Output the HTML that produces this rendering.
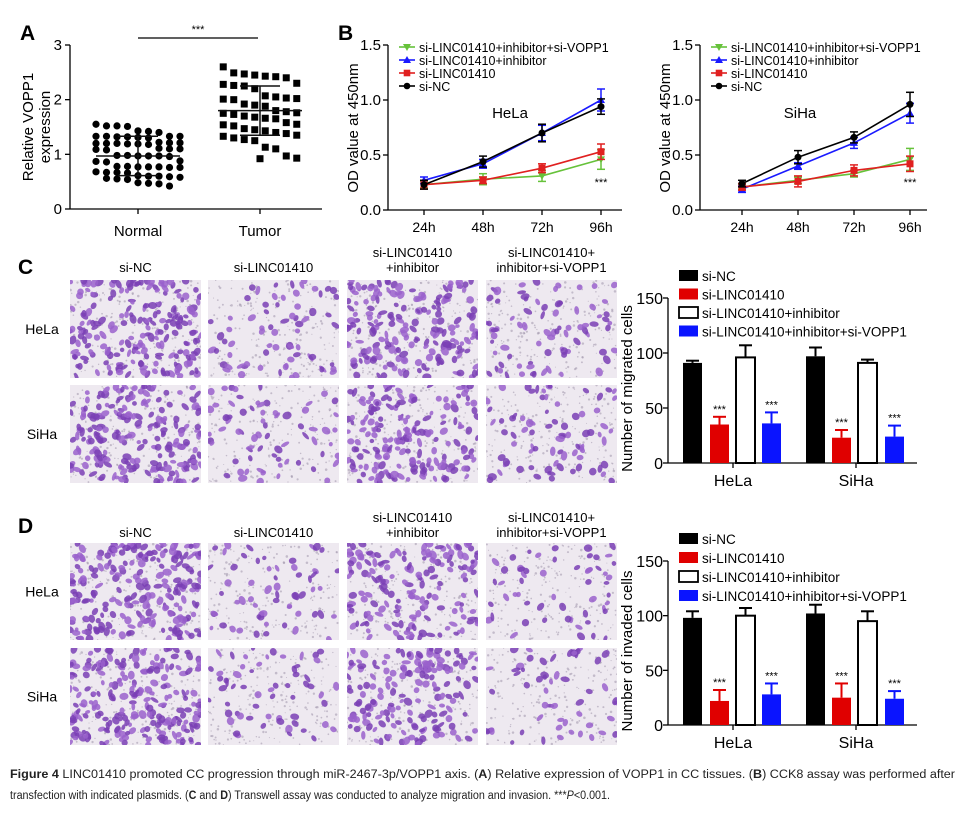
<!DOCTYPE html>
<html><head><meta charset="utf-8">
<style>
html,body{margin:0;padding:0;background:#fff;}
svg{display:block;font-family:"Liberation Sans",Arial,sans-serif;}
</style></head>
<body>
<svg id="fig" width="964" height="817" viewBox="0 0 964 817" xmlns="http://www.w3.org/2000/svg">
<g id="panelA"></g>
<g id="panelB"></g>
<g id="panelC"></g>
<g id="panelD"></g>
<g id="caption">
<text x="10" y="778" font-size="11.5" textLength="945" lengthAdjust="spacingAndGlyphs" fill="#222"><tspan font-weight="bold">Figure 4</tspan> LINC01410 promoted CC progression through miR-2467-3p/VOPP1 axis. (<tspan font-weight="bold">A</tspan>) Relative expression of VOPP1 in CC tissues. (<tspan font-weight="bold">B</tspan>) CCK8 assay was performed after</text>
<text x="10" y="799" font-size="11.5" textLength="600" lengthAdjust="spacingAndGlyphs" fill="#222">transfection with indicated plasmids. (<tspan font-weight="bold">C</tspan> and <tspan font-weight="bold">D</tspan>) Transwell assay was conducted to analyze migration and invasion. ***<tspan font-style="italic">P</tspan>&lt;0.001.</text>
</g>
</svg>
<script>
// ---------- DATA ----------
const aCategories = ["Normal","Tumor"];
const normalVals = [1.55,1.52,1.51,1.52,1.43,1.42,1.40,1.33,1.32,1.33,1.31,1.33,1.32,1.30,1.33,1.20,1.21,1.19,1.20,1.18,1.21,1.20,1.22,1.19,1.10,1.09,1.11,1.08,1.10,0.97,0.98,0.96,0.97,0.98,0.97,0.87,0.88,0.86,0.77,0.76,0.78,0.77,0.76,0.78,0.77,0.67,0.66,0.68,0.67,0.60,0.59,0.61,0.58,0.60,0.55,0.56,0.54,0.47,0.46,0.48,0.42];
const tumorVals = [2.60,2.49,2.47,2.45,2.43,2.42,2.40,2.30,2.28,2.26,2.25,2.20,2.07,2.05,2.03,2.02,2.00,2.01,1.92,1.90,1.88,1.80,1.78,1.76,1.75,1.73,1.70,1.68,1.66,1.65,1.58,1.55,1.54,1.52,1.47,1.45,1.43,1.40,1.38,1.35,1.33,1.30,1.27,1.25,1.13,1.10,0.97,0.93,0.92];
const aMeans = [0.97,1.80];
const aSD = [0.36,0.45];
const aTicks = [0,1,2,3];
const bTimes = ["24h","48h","72h","96h"];
const bTicks = [0.0,0.5,1.0,1.5];
const bSeriesNames = ["si-LINC01410+inhibitor+si-VOPP1","si-LINC01410+inhibitor","si-LINC01410","si-NC"];
const helaGreen=[0.23,0.28,0.31,0.46], helaGreenErr=[0.03,0.05,0.05,0.09];
const helaBlue=[0.27,0.42,0.70,1.00], helaBlueErr=[0.03,0.04,0.07,0.10];
const helaRed=[0.23,0.27,0.38,0.53], helaRedErr=[0.04,0.03,0.04,0.07];
const helaBlack=[0.23,0.44,0.70,0.94], helaBlackErr=[0.04,0.05,0.08,0.07];
const sihaGreen=[0.21,0.27,0.33,0.46], sihaGreenErr=[0.02,0.03,0.03,0.10];
const sihaBlue=[0.19,0.40,0.61,0.88], sihaBlueErr=[0.03,0.03,0.05,0.09];
const sihaRed=[0.21,0.26,0.36,0.42], sihaRedErr=[0.03,0.05,0.05,0.07];
const sihaBlack=[0.24,0.48,0.66,0.96], sihaBlackErr=[0.03,0.06,0.05,0.11];
const barGroups = ["HeLa","SiHa"];
const barSeries = ["si-NC","si-LINC01410","si-LINC01410+inhibitor","si-LINC01410+inhibitor+si-VOPP1"];
const barTicks = [0,50,100,150];
const migHela=[91,35,96,36], migHelaErr=[2,7,11,10];
const migSiha=[97,23,91,24], migSihaErr=[8,7,3,10];
const invHela=[98,22,100,28], invHelaErr=[6,10,7,10];
const invSiha=[102,25,95,24], invSihaErr=[8,13,9,7];
const sigFlags=[false,true,false,true];

// ---------- HELPERS ----------
const NS="http://www.w3.org/2000/svg";
function mk(parent,tag,attrs,text){const e=document.createElementNS(NS,tag);for(const k in attrs)e.setAttribute(k,attrs[k]);if(text!==undefined)e.textContent=text;parent.appendChild(e);return e;}
const fig=document.getElementById('fig');
let t;
t=mk(fig,'text',{x:20,y:40,'font-size':21,'font-weight':'bold'},'A');


t=mk(fig,'text',{x:338,y:40,'font-size':21,'font-weight':'bold'},'B');


t=mk(fig,'text',{x:18,y:274,'font-size':21,'font-weight':'bold'},'C');


t=mk(fig,'text',{x:18,y:533,'font-size':21,'font-weight':'bold'},'D');



// ---------- PANEL A ----------
(function(){
 const g=document.getElementById('panelA');
 const x0=70,x1=322,yb=209,yt=45;
 const ys=v=>yb-(v/3)*(yb-yt);
 const xs=[138,260];
 let e=mk(g,'line',{x1:x0,y1:yt,x2:x0,y2:yb,stroke:'#000','stroke-width':1.3});
 
 e=mk(g,'line',{x1:x0,y1:yb,x2:x1,y2:yb,stroke:'#000','stroke-width':1.3});
 
 aTicks.forEach(v=>{mk(g,'line',{x1:x0-5,y1:ys(v),x2:x0,y2:ys(v),stroke:'#000','stroke-width':1.3});
  const l=mk(g,'text',{x:x0-8,y:ys(v)+5,'font-size':15,'text-anchor':'end'},String(v));
  });
 aCategories.forEach((c,i)=>{mk(g,'line',{x1:xs[i],y1:yb,x2:xs[i],y2:yb+5,stroke:'#000','stroke-width':1.3});
  const l=mk(g,'text',{x:xs[i],y:yb+27,'font-size':15,'text-anchor':'middle'},c);
  });
 const yt1=mk(g,'text',{transform:'translate(33,127) rotate(-90)','font-size':15,'text-anchor':'middle'},'Relative VOPP1');
 
 const yt2=mk(g,'text',{transform:'translate(50,127) rotate(-90)','font-size':15,'text-anchor':'middle'},'expression');
 
 [normalVals,tumorVals].forEach((arr,gi)=>{
  const sorted=arr.slice().sort((a,b)=>b-a);
  const per=gi===0?9:8;
  sorted.forEach((v,k)=>{
   const row=Math.floor(k/per);const n=Math.min(per,sorted.length-row*per);const pos=k%per;
   const order=[0,2,4,6,8,7,5,3,1];
   const cx=xs[gi]+(pos-(n-1)/2)*10.5;
   let p;
   if(gi===0){p=mk(g,'circle',{cx:cx,cy:ys(v),r:3.6,fill:'#000'});}
   else{p=mk(g,'rect',{x:cx-3.5,y:ys(v)-3.5,width:7,height:7,fill:'#000'});}
   });
  const m=mk(g,'line',{x1:xs[gi]-42,x2:xs[gi]+42,y1:ys(aMeans[gi]),y2:ys(aMeans[gi]),stroke:'#111','stroke-width':1.5});
  
  mk(g,'line',{x1:xs[gi],x2:xs[gi],y1:ys(aMeans[gi]-aSD[gi]),y2:ys(aMeans[gi]+aSD[gi]),stroke:'#111','stroke-width':1.5});
  [aMeans[gi]-aSD[gi],aMeans[gi]+aSD[gi]].forEach(v=>mk(g,'line',{x1:xs[gi]-20,x2:xs[gi]+20,y1:ys(v),y2:ys(v),stroke:'#111','stroke-width':1.5}));
 });
 const s=mk(g,'line',{x1:138,x2:258,y1:38,y2:38,stroke:'#000','stroke-width':1.3});
 
 const st=mk(g,'text',{x:198,y:33,'font-size':11,'text-anchor':'middle'},'***');
 
})();

// ---------- PANEL B ----------
function lineChart(g,ax,xTicksPx,xEnd,label,labelX,series,name){
 const yb=210,yt=45;const ys=v=>yb-(v/1.5)*(yb-yt);
 let e=mk(g,'line',{x1:ax,y1:yt,x2:ax,y2:yb,stroke:'#000','stroke-width':1.3});
 
 e=mk(g,'line',{x1:ax,y1:yb,x2:xEnd,y2:yb,stroke:'#000','stroke-width':1.3});
 
 bTicks.forEach(v=>{mk(g,'line',{x1:ax-5,x2:ax,y1:ys(v),y2:ys(v),stroke:'#000','stroke-width':1.3});
  const l=mk(g,'text',{x:ax-7,y:ys(v)+5,'font-size':15,'text-anchor':'end'},v.toFixed(1));
  });
 const xp=i=>xTicksPx[0]+i*(xTicksPx[1]-xTicksPx[0]);
 bTimes.forEach((tt,i)=>{mk(g,'line',{x1:xp(i),x2:xp(i),y1:yb,y2:yb+5,stroke:'#000','stroke-width':1.3});
  const l=mk(g,'text',{x:xp(i),y:yb+22,'font-size':14,'text-anchor':'middle'},tt);
  });
 const ytl=mk(g,'text',{transform:`translate(${ax-30},128) rotate(-90)`,'font-size':15,'text-anchor':'middle'},'OD value at 450nm');
 
 const cl=mk(g,'text',{x:labelX,y:118,'font-size':15,'text-anchor':'middle'},label);
 
 series.forEach(s=>{
  const pts=s.vals.map((v,i)=>xp(i)+','+ys(v)).join(' ');
  const pl=mk(g,'polyline',{points:pts,fill:'none',stroke:s.color,'stroke-width':1.6});
  
  s.vals.forEach((v,i)=>{const x=xp(i);
   mk(g,'line',{x1:x,x2:x,y1:ys(v-s.err[i]),y2:ys(v+s.err[i]),stroke:s.color,'stroke-width':1.5});
   [v-s.err[i],v+s.err[i]].forEach(w=>mk(g,'line',{x1:x-4,x2:x+4,y1:ys(w),y2:ys(w),stroke:s.color,'stroke-width':1.5}));
   let m;
   if(s.mark==='circle')m=mk(g,'circle',{cx:x,cy:ys(v),r:3.5,fill:s.color});
   else if(s.mark==='square')m=mk(g,'rect',{x:x-3.5,y:ys(v)-3.5,width:7,height:7,fill:s.color});
   else if(s.mark==='up')m=mk(g,'polygon',{points:`${x},${ys(v)-4} ${x-4},${ys(v)+3} ${x+4},${ys(v)+3}`,fill:s.color});
   else m=mk(g,'polygon',{points:`${x},${ys(v)+4} ${x-4},${ys(v)-3} ${x+4},${ys(v)-3}`,fill:s.color});
   });
 });
 const lx=ax+11;
 series.forEach((s,i)=>{const y=47+i*13;
  mk(g,'line',{x1:lx,x2:lx+16,y1:y,y2:y,stroke:s.color,'stroke-width':1.6});
  let m;const x=lx+8;
  if(s.mark==='circle')m=mk(g,'circle',{cx:x,cy:y,r:3.3,fill:s.color});
  else if(s.mark==='square')m=mk(g,'rect',{x:x-3.3,y:y-3.3,width:6.6,height:6.6,fill:s.color});
  else if(s.mark==='up')m=mk(g,'polygon',{points:`${x},${y-4} ${x-4},${y+3} ${x+4},${y+3}`,fill:s.color});
  else m=mk(g,'polygon',{points:`${x},${y+4} ${x-4},${y-3} ${x+4},${y-3}`,fill:s.color});
  const l=mk(g,'text',{x:lx+20,y:y+5,'font-size':12.5},s.label);
  });
 const st=mk(g,'text',{x:xp(3),y:186,'font-size':11,'text-anchor':'middle'},'***');
 
}
(function(){
 const g=document.getElementById('panelB');
 const cols=['#66c23a','#1a1aff','#e02020','#000'],marks=['down','up','square','circle'],keys=['vopp1','inhibitor','linc','nc'];
 const mkS=(vals,errs)=>vals.map((v,i)=>({vals:v,err:errs[i],color:cols[i],mark:marks[i],key:keys[i],label:bSeriesNames[i]}));
 const gl=mk(g,'g',{});
 lineChart(gl,388,[424,483],622,'HeLa',510,mkS([helaGreen,helaBlue,helaRed,helaBlack],[helaGreenErr,helaBlueErr,helaRedErr,helaBlackErr]),'hela');
 const gr=mk(g,'g',{});
 lineChart(gr,700,[742,798],927,'SiHa',800,mkS([sihaGreen,sihaBlue,sihaRed,sihaBlack],[sihaGreenErr,sihaBlueErr,sihaRedErr,sihaBlackErr]),'siha');
})();

// ---------- MICROGRAPHS ----------
let seed=12345;function rnd(){seed=(seed*1103515245+12345)%2147483648;return seed/2147483648;}
function micro(g,x,y,w,h,dens,name){
 const sv=mk(g,'svg',{x:x,y:y,width:w,height:h});
 
 mk(sv,'rect',{x:0,y:0,width:w,height:h,fill:'#eee9f0'});
 for(let i=0;i<220;i++)mk(sv,'circle',{cx:rnd()*w,cy:rnd()*h,r:0.5+rnd()*0.8,fill:'#a79cb0',opacity:0.6});
 for(let i=0;i<dens;i++){const cx=rnd()*w,cy=rnd()*h;
  mk(sv,'ellipse',{cx:cx,cy:cy,rx:2.2+rnd()*2.6,ry:1.8+rnd()*2,transform:`rotate(${rnd()*180} ${cx} ${cy})`,fill:rnd()<0.5?'#7a3fb5':'#9a62cc',opacity:0.85});}
}
function cellLabels(g,cx,lines,y0,name){lines.forEach((s,i)=>{const l=mk(g,'text',{x:cx,y:y0+i*15,'font-size':13,'text-anchor':'middle'},s);
 });}
function gridPanel(g,topY,row1,row2,dens,pref,hdrY){
 const xs=[70,208,347,486],w=131;
 const hdr=[["si-NC"],["si-LINC01410"],["si-LINC01410","+inhibitor"],["si-LINC01410+","inhibitor+si-VOPP1"]];
 hdr.forEach((hh,i)=>cellLabels(g,xs[i]+w/2,hh,hh.length===1?hdrY:hdrY-15,pref+'-column-header'));
 [row1,row2].forEach((ry,r)=>{
  const l=mk(g,'text',{x:42,y:ry[0]+ry[1]/2+5,'font-size':14,'text-anchor':'middle'},r===0?'HeLa':'SiHa');
  
  xs.forEach((x,i)=>micro(g,x,ry[0],w,ry[1],dens[i],pref+'-micrograph'));});
}
gridPanel(document.getElementById('panelC'),280,[280,98],[385,98],[210,70,190,80],'c',272);
gridPanel(document.getElementById('panelD'),543,[543,97],[648,97],[230,60,170,55],'d',537);

// ---------- BAR CHARTS ----------
function barChart(g,yb,yt,yTitle,hela,helaE,siha,sihaE,legY,legStep,name){
 const ax=668,xEnd=917;const ys=v=>yb-(v/150)*(yb-yt);
 const barX=[[683,710,736,762],[806,832,858,885]],bw=19;
 const fills=['#000','#e00000','#fff','#0a14ff'];
 let e=mk(g,'line',{x1:ax,y1:yt,x2:ax,y2:yb,stroke:'#000','stroke-width':1.3});
 
 e=mk(g,'line',{x1:ax,y1:yb,x2:xEnd,y2:yb,stroke:'#000','stroke-width':1.3});
 
 barTicks.forEach(v=>{mk(g,'line',{x1:ax-5,x2:ax,y1:ys(v),y2:ys(v),stroke:'#000','stroke-width':1.3});
  const l=mk(g,'text',{x:ax-5,y:ys(v)+6,'font-size':16,'text-anchor':'end'},String(v));
  });
 const ytl=mk(g,'text',{transform:`translate(${ax-36},${(yb+yt)/2+8}) rotate(-90)`,'font-size':15,'text-anchor':'middle'},yTitle);
 
 [[hela,helaE],[siha,sihaE]].forEach((d,gi)=>{
  const cx=gi===0?733:856;
  mk(g,'line',{x1:cx,x2:cx,y1:yb,y2:yb+5,stroke:'#000','stroke-width':1.3});
  const l=mk(g,'text',{x:cx,y:yb+23,'font-size':16,'text-anchor':'middle'},barGroups[gi]);
  
  d[0].forEach((v,i)=>{const x=barX[gi][i];
   const top=ys(v+d[1][i]);
   mk(g,'line',{x1:x+bw/2,x2:x+bw/2,y1:ys(v),y2:top,stroke:fills[i]==='#fff'?'#000':fills[i],'stroke-width':2});
   mk(g,'line',{x1:x+3,x2:x+bw-3,y1:top,y2:top,stroke:fills[i]==='#fff'?'#000':fills[i],'stroke-width':2});
   const b=mk(g,'rect',{x:x,y:ys(v),width:bw,height:yb-ys(v),fill:fills[i],stroke:fills[i]==='#fff'?'#000':'none','stroke-width':2});
   
   if(sigFlags[i]){const s=mk(g,'text',{x:x+bw/2,y:top-4,'font-size':11,'text-anchor':'middle'},'***');
    }
  });
 });
 barSeries.forEach((s,i)=>{const y=legY+i*legStep;
  mk(g,'rect',{x:679,y:y-6,width:19,height:11,fill:fills[i],stroke:fills[i]==='#fff'?'#000':'none','stroke-width':1.8});
  const l=mk(g,'text',{x:702,y:y+5,'font-size':13.5},s);
  });
}
(function(){
 const gc=mk(document.getElementById('panelC'),'g',{});
 barChart(gc,463,298,'Number of migrated cells',migHela,migHelaErr,migSiha,migSihaErr,276,18.5,'mig');
 const gd=mk(document.getElementById('panelD'),'g',{});
 barChart(gd,725,561,'Number of invaded cells',invHela,invHelaErr,invSiha,invSihaErr,539,19,'inv');
})();
</script>
</body></html>
